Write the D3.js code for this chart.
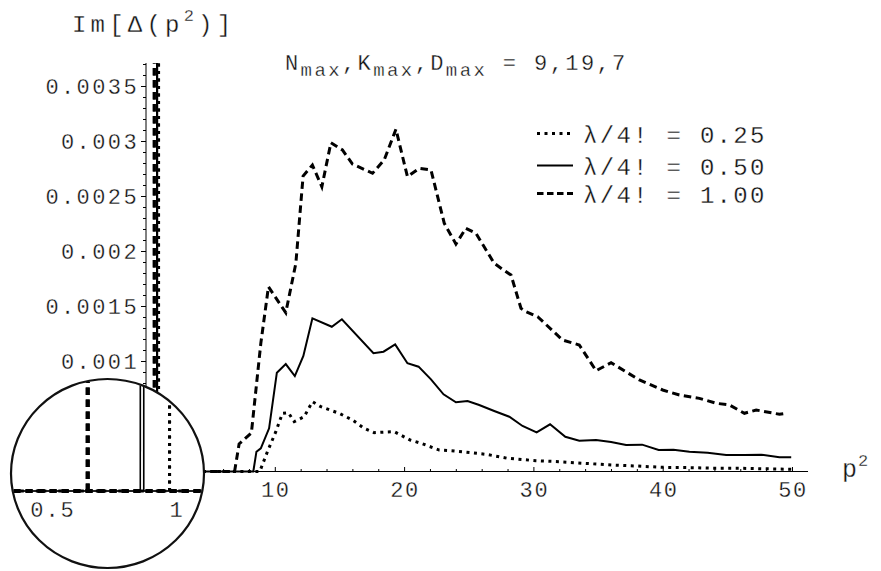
<!DOCTYPE html>
<html><head><meta charset="utf-8">
<script src="https://cdn.jsdelivr.net/npm/d3@7"></script>
<style>body{margin:0;background:#fff}svg{display:block}text{stroke:#fff;stroke-width:0.3px;paint-order:fill;fill:#111}</style>
</head><body>
<svg id="c" width="881" height="571"></svg>
<script>
// ---------- data ----------
// λ/4! = 0.25 (dotted)
const p2_025 = [0.34, 8.8, 9.39, 10.04, 10.55, 11.01, 11.46, 12.23, 12.87, 13.52, 14.94, 15.97, 16.87, 17.65, 19.2, 20.43, 21.28, 22.68, 23.84, 24.77, 26.32, 27.96, 30.16, 31.97, 33.77, 36.09, 37.9, 39.96, 42.28, 44.09, 46.15, 47.7, 50.02];
const im_025 = [0, 0, 0.00018, 0.000362, 0.000529, 0.000535, 0.000453, 0.000498, 0.000635, 0.000589, 0.000529, 0.000468, 0.000393, 0.000353, 0.000362, 0.000286, 0.000256, 0.000195, 0.000186, 0.000175, 0.000156, 0.00012, 0.000098, 0.000089, 0.000075, 0.000059, 0.00005, 0.000038, 0.000035, 0.000029, 0.000029, 0.000025, 0.00002];
// λ/4! = 0.50 (solid)
const p2_050 = [0.34, 8.3, 8.54, 8.88, 9.52, 10.12, 10.81, 11.51, 12.17, 12.87, 14.37, 15.15, 17.59, 18.37, 19.27, 20.22, 21.08, 22.04, 23.01, 23.97, 24.87, 25.77, 26.93, 28.1, 29.12, 30.21, 31.25, 32.43, 33.51, 34.81, 35.97, 37.13, 38.37, 39.65, 40.79, 42.03, 43.44, 44.87, 46.28, 47.58, 48.99, 49.9];
const im_050 = [0, 0, 0.00018, 0.000211, 0.000393, 0.000898, 0.000977, 0.000868, 0.00105, 0.001393, 0.001316, 0.001384, 0.001075, 0.001089, 0.001156, 0.000984, 0.000953, 0.000838, 0.000702, 0.000629, 0.000641, 0.000605, 0.00055, 0.000498, 0.000414, 0.000356, 0.000429, 0.000316, 0.00028, 0.000286, 0.000268, 0.000241, 0.000244, 0.000195, 0.000198, 0.00018, 0.000171, 0.00015, 0.00015, 0.000153, 0.000129, 0.000129];
// λ/4! = 1.00 (dashed)
const p2_100 = [0.34, 6.85, 7.2, 8.15, 8.88, 9.47, 10.81, 11.59, 12.15, 12.87, 13.6, 14.3, 15.19, 15.97, 17.52, 18.42, 19.33, 20.22, 21.13, 22.04, 23.07, 23.97, 24.74, 25.52, 26.93, 27.58, 28.23, 29.0, 29.39, 30.29, 32.22, 33.51, 34.81, 35.97, 38.16, 39.96, 41.25, 42.8, 44.1, 45.12, 46.28, 47.19, 48.99, 49.51];
const im_100 = [0, 0, 0.00025, 0.00035, 0.001165, 0.00168, 0.001444, 0.001893, 0.002686, 0.002786, 0.002589, 0.002989, 0.002923, 0.002795, 0.002711, 0.002832, 0.003111, 0.00268, 0.002756, 0.002741, 0.002256, 0.002068, 0.002211, 0.002165, 0.001893, 0.001838, 0.001786, 0.001484, 0.001453, 0.001407, 0.001195, 0.00115, 0.000916, 0.000989, 0.000832, 0.000741, 0.000695, 0.000665, 0.00062, 0.000605, 0.000529, 0.000559, 0.00052, 0.000529];
// narrow bound-state peaks (p², half width, height beyond frame)
const spikeP2 = [0.97, 0.859, 0.64];
const spikeHalfWidth = [0, 0.007, 0];
const spikeHeight = [0.05, 0.05, 0.05];

const legendLabels = ["λ/4! = 0.25", "λ/4! = 0.50", "λ/4! = 1.00"];
const xTicks = [10, 20, 30, 40, 50];
const xMinorTicks = d3.range(2, 51, 2);
const yTicks = [0.0005, 0.001, 0.0015, 0.002, 0.0025, 0.003, 0.0035];
const yTickLabels = ["0.0005", "0.001", "0.0015", "0.002", "0.0025", "0.003", "0.0035"];
const yMinorTicks = d3.range(1, 38).map(i => i * 0.0001);
const insetTicks = [0.5, 1];
const insetTickLabels = ["0.5", "1"];

// ---------- setup ----------
const FONT = "'Liberation Mono', monospace";
const svg = d3.select("#c");
const xMain = d3.scaleLinear().domain([0, 50]).range([146, 792.5]);
const yMain = d3.scaleLinear().domain([0, 0.0035]).range([471.5, 86.5]);
const yTopVal = yMain.invert(63);
const xEnd = 51.2;

const series = [
  {p: p2_025, v: im_025, dash: "3,4.5", w: 3, wIn: 3, cap: "butt"},
  {p: p2_050, v: im_050, dash: null, w: 2, wIn: 1.6, cap: "butt"},
  {p: p2_100, v: im_100, dash: "7.5,4.5", w: 3, wIn: 4, cap: "butt"}
];

const defs = svg.append("defs");
defs.append("clipPath").attr("id", "plotClip").append("rect")
  .attr("x", 130).attr("y", yMain(yTopVal)).attr("width", 700).attr("height", 430);
const EX = {cx: 107.5, cy: 473.5, rx: 96.5, ry: 94.5};
defs.append("clipPath").attr("id", "insetClip").append("ellipse")
  .attr("cx", EX.cx).attr("cy", EX.cy).attr("rx", EX.rx - 1).attr("ry", EX.ry - 1);

// ---------- main axes ----------
const ax = svg.append("g");
ax.append("line").attr("x1", xMain(0)).attr("x2", xMain(xEnd))
  .attr("y1", yMain(0)).attr("y2", yMain(0)).attr("stroke", "#000").attr("stroke-width", 1.2);
ax.append("line").attr("x1", xMain(0)).attr("x2", xMain(0))
  .attr("y1", yMain(0)).attr("y2", yMain(yTopVal)).attr("stroke", "#000").attr("stroke-width", 1);

ax.selectAll(".xmin").data(xMinorTicks).enter().append("line")
  .attr("x1", d => xMain(d)).attr("x2", d => xMain(d))
  .attr("y1", yMain(0)).attr("y2", d => yMain(0) - (xTicks.includes(d) ? 4.5 : 2.5))
  .attr("stroke", "#000").attr("stroke-width", 1);
ax.selectAll(".xlab").data(xTicks).enter().append("text")
  .attr("x", d => xMain(d) + 0.5).attr("y", 497)
  .attr("text-anchor", "middle").attr("font-family", FONT).attr("font-size", 22)
  .attr("letter-spacing", 1.6).text(d => d);

ax.selectAll(".ymin").data(yMinorTicks).enter().append("line")
  .attr("y1", d => yMain(d)).attr("y2", d => yMain(d))
  .attr("x1", xMain(0)).attr("x2", (d, i) => xMain(0) - ((i + 1) % 5 === 0 ? 5 : 3))
  .attr("stroke", "#000").attr("stroke-width", 1);
ax.selectAll(".ylab").data(yTicks).enter().append("text")
  .attr("x", 139).attr("y", d => yMain(d) + 7.5)
  .attr("text-anchor", "end").attr("font-family", FONT).attr("font-size", 22)
  .attr("letter-spacing", 2.4).text((d, i) => yTickLabels[i]);

// ---------- curves ----------
function drawSeries(g, xs, ys, widthKey) {
  const line = d3.line().x(d => xs(d[0])).y(d => ys(d[1]));
  series.forEach((s, k) => {
    const pts = s.p.map((p, i) => [p, s.v[i]]);
    g.append("path").attr("d", line(pts)).attr("fill", "none").attr("stroke", "#000")
      .attr("stroke-width", s[widthKey]).attr("stroke-dasharray", s.dash)
      .attr("stroke-linejoin", "miter").attr("stroke-linecap", s.cap);
    // narrow peak: both flanks start from the baseline
    [-1, 1].forEach(sg => {
      const sp = [[spikeP2[k] + sg * spikeHalfWidth[k], 0], [spikeP2[k], spikeHeight[k]]];
      g.append("path").attr("d", line(sp)).attr("fill", "none").attr("stroke", "#000")
        .attr("stroke-width", s[widthKey]).attr("stroke-dasharray", s.dash);
    });
  });
}
const plotG = svg.append("g").attr("clip-path", "url(#plotClip)");
drawSeries(plotG, xMain, yMain, "w");

// ---------- inset ----------
const xIn = d3.scaleLinear().domain([0.5, 1]).range([53, 177]);
const yIn = d3.scaleLinear().domain([0, 0.0005]).range([491, 381]);
svg.append("ellipse").attr("cx", EX.cx).attr("cy", EX.cy).attr("rx", EX.rx).attr("ry", EX.ry)
  .attr("fill", "#fff").attr("stroke", "none");
const inG = svg.append("g").attr("clip-path", "url(#insetClip)");
inG.append("line").attr("x1", xIn(0.3)).attr("x2", xIn(1.2))
  .attr("y1", yIn(0)).attr("y2", yIn(0)).attr("stroke", "#000").attr("stroke-width", 1);
drawSeries(inG, xIn, yIn, "wIn");
svg.selectAll(".inlab").data(insetTicks).enter().append("text")
  .attr("x", d => xIn(d)).attr("y", 517).attr("text-anchor", "middle")
  .attr("font-family", FONT).attr("font-size", 22).attr("letter-spacing", 2)
  .text((d, i) => insetTickLabels[i]);
svg.append("ellipse").attr("cx", EX.cx).attr("cy", EX.cy).attr("rx", EX.rx).attr("ry", EX.ry)
  .attr("fill", "none").attr("stroke", "#111").attr("stroke-width", 2.2);

// ---------- texts ----------
function rich(x, y, parts, base, ls) {
  const t = svg.append("text").attr("x", x).attr("y", y).attr("font-family", FONT)
    .attr("font-size", base).attr("letter-spacing", ls);
  parts.forEach(p => t.append("tspan").attr("font-size", p.s || base)
    .attr("dy", p.dy || 0).text(p.t));
  return t;
}
// title
rich(285, 70, [
  {t: "N"}, {t: "max", s: 19, dy: 6}, {t: ",K", dy: -6}, {t: "max", s: 19, dy: 6},
  {t: ",D", dy: -6}, {t: "max", s: 19, dy: 6}, {t: " = 9,19,7", dy: -6}
], 22, 2.4);
// y label
rich(72, 32, [{t: "Im[Δ(p"}, {t: "2", s: 17, dy: -11}, {t: ")]", dy: 11}], 24, 4.2);
// x label
rich(842, 477, [{t: "p"}, {t: "2", s: 17, dy: -11}], 25, 1);

// ---------- legend ----------
const legY = [133.5, 165.5, 193.5];
const lg = svg.append("g");
series.forEach((s, i) => {
  lg.append("line").attr("x1", 537).attr("x2", 573).attr("y1", legY[i]).attr("y2", legY[i])
    .attr("stroke", "#000").attr("stroke-width", s.w)
    .attr("stroke-dasharray", s.dash ? (i === 0 ? "3,4.5" : "6.5,3.5") : null);
  lg.append("text").attr("x", 583).attr("y", legY[i] + 9).attr("font-family", FONT)
    .attr("font-size", 24).attr("letter-spacing", 2.3).text(legendLabels[i]);
});
</script>
</body></html>
